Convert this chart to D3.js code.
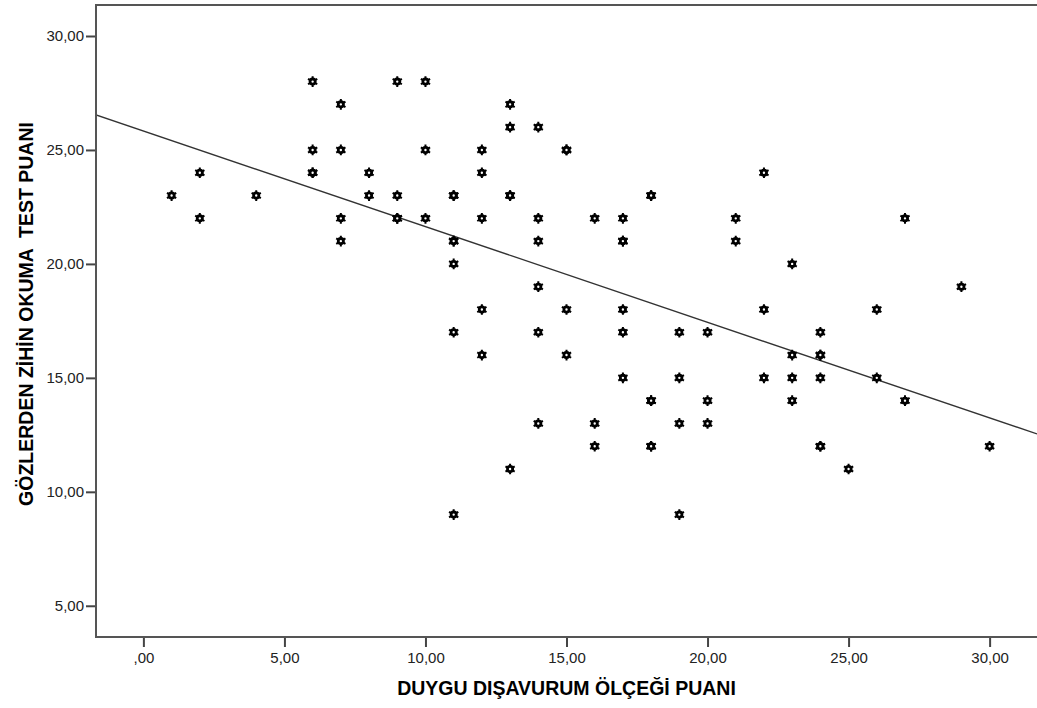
<!DOCTYPE html>
<html>
<head>
<meta charset="utf-8">
<script src="https://cdn.jsdelivr.net/npm/d3@7"></script>
<style>
  html, body { margin: 0; padding: 0; background: #fff; }
  svg { display: block; }
</style>
</head>
<body>
<svg id="chart" width="1037" height="708"></svg>
<script>
// scores (x = duygu dışavurum, y = zihin okuma)
// repeated pairs are drawn twice, like the darker markers in the picture
const scoreX = [
  1, 2, 2, 4,
  6, 6, 6, 6,
  7, 7, 7, 7,
  8, 8,
  9, 9, 9, 9,
  10, 10, 10,
  11, 11, 11, 11, 11, 11, 11,
  12, 12, 12, 12, 12,
  13, 13, 13, 13, 13,
  14, 14, 14, 14, 14, 14,
  15, 15, 15, 15,
  16, 16, 16,
  17, 17, 17, 17, 17, 17,
  18, 18, 18, 18, 18, 18,
  19, 19, 19, 19,
  20, 20, 20,
  21, 21,
  22, 22, 22,
  23, 23, 23, 23,
  24, 24, 24, 24, 24, 24,
  25,
  26, 26,
  27, 27,
  29,
  30
];
const scoreY = [
  23, 24, 22, 23,
  28, 25, 24, 24,
  27, 25, 22, 21,
  24, 23,
  28, 23, 22, 22,
  28, 25, 22,
  23, 23, 21, 21, 20, 17, 9,
  25, 24, 22, 18, 16,
  27, 26, 23, 23, 11,
  26, 22, 21, 19, 17, 13,
  25, 25, 18, 16,
  22, 13, 12,
  22, 21, 21, 18, 17, 15,
  23, 23, 14, 14, 12, 12,
  17, 15, 13, 9,
  17, 14, 13,
  22, 21,
  24, 18, 15,
  20, 16, 15, 14,
  17, 16, 16, 15, 12, 12,
  11,
  18, 15,
  22, 14,
  19,
  12
];

// linear fit line
const fitIntercept = 25.83;
const fitSlope = -0.4195;

const xTicks = [0, 5, 10, 15, 20, 25, 30];
const xTickLabels = [",00", "5,00", "10,00", "15,00", "20,00", "25,00", "30,00"];
const yTicks = [5, 10, 15, 20, 25, 30];
const yTickLabels = ["5,00", "10,00", "15,00", "20,00", "25,00", "30,00"];

const xTitle = "DUYGU DIŞAVURUM ÖLÇEĞİ PUANI";
const yTitle = "GÖZLERDEN ZİHİN OKUMA  TEST PUANI";

const plot = { left: 96, right: 1037, top: 5, bottom: 637 };
const xDomain = [-1.68, 31.68];
const yDomain = [3.63, 31.36];

const svg = d3.select("#chart");

const x = d3.scaleLinear().domain(xDomain).range([plot.left, plot.right]);
const y = d3.scaleLinear().domain(yDomain).range([plot.bottom, plot.top]);

const font = "'Liberation Sans', Arial, sans-serif";

// x axis
const xAxis = svg.append("g")
  .attr("transform", `translate(0,${plot.bottom})`)
  .call(d3.axisBottom(x)
    .tickValues(xTicks)
    .tickSize(10)
    .tickSizeOuter(0)
    .tickPadding(5)
    .tickFormat((d, i) => xTickLabels[i]));

// y axis
const yAxis = svg.append("g")
  .attr("transform", `translate(${plot.left},0)`)
  .call(d3.axisLeft(y)
    .tickValues(yTicks)
    .tickSize(10)
    .tickSizeOuter(0)
    .tickPadding(2)
    .tickFormat((d, i) => yTickLabels[i]));

[xAxis, yAxis].forEach(g => {
  g.select(".domain").remove();
  g.selectAll(".tick line").attr("stroke", "#444").attr("stroke-width", 2);
  g.selectAll(".tick text")
    .attr("fill", "#222")
    .style("font-family", font)
    .style("font-size", "15px");
});

// frame (right side runs off the picture)
svg.append("rect")
  .attr("x", plot.left)
  .attr("y", plot.top)
  .attr("width", plot.right - plot.left + 20)
  .attr("height", plot.bottom - plot.top)
  .attr("fill", "none")
  .attr("stroke", "#555")
  .attr("stroke-width", 2);

// clip for the fit line
svg.append("clipPath").attr("id", "plotClip")
  .append("rect")
  .attr("x", plot.left + 1)
  .attr("y", plot.top + 1)
  .attr("width", plot.right - plot.left)
  .attr("height", plot.bottom - plot.top - 2);

const fitLine = d3.line()
  .x(d => x(d))
  .y(d => y(fitIntercept + fitSlope * d));

svg.append("path")
  .datum(xDomain)
  .attr("clip-path", "url(#plotClip)")
  .attr("d", fitLine)
  .attr("fill", "none")
  .attr("stroke", "#333")
  .attr("stroke-width", 1.4);

// markers: small starred circles like SPSS
const points = scoreX.map((v, i) => ({ x: v, y: scoreY[i] }));
const star = d3.symbol().type(d3.symbolAsterisk).size(80);

const marks = svg.append("g")
  .selectAll("g")
  .data(points)
  .join("g")
  .attr("transform", d => `translate(${x(d.x)},${y(d.y)})`);

marks.append("path")
  .attr("d", star)
  .attr("stroke", "#000")
  .attr("stroke-width", 2)
  .attr("fill", "none");

marks.append("circle")
  .attr("r", 2.6)
  .attr("fill", "#fff")
  .attr("stroke", "#000")
  .attr("stroke-width", 2.8);

// axis titles
svg.append("text")
  .attr("x", (plot.left + plot.right) / 2)
  .attr("y", 695)
  .attr("text-anchor", "middle")
  .style("font-family", font)
  .style("font-weight", "bold")
  .style("font-size", "19.5px")
  .attr("fill", "#000")
  .text(xTitle);

svg.append("text")
  .attr("transform", "translate(33,314) rotate(-90)")
  .attr("text-anchor", "middle")
  .style("font-family", font)
  .style("font-weight", "bold")
  .style("font-size", "19.5px")
  .style("white-space", "pre")
  .attr("xml:space", "preserve")
  .attr("fill", "#000")
  .text(yTitle);
</script>
</body>
</html>
